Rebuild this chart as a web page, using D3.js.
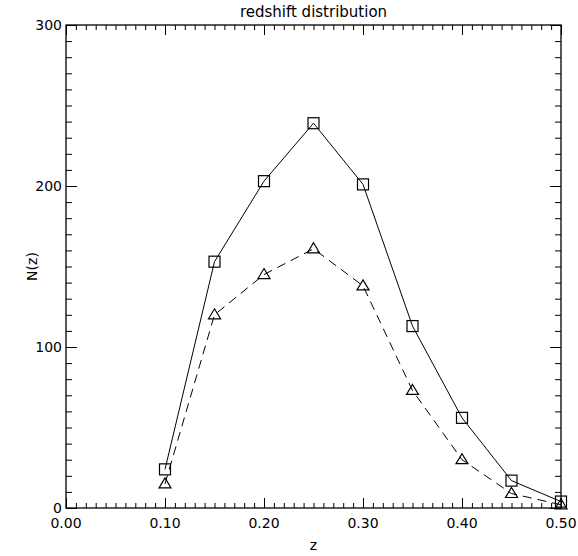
<!DOCTYPE html>
<html>
<head>
<meta charset="utf-8">
<script src="https://cdn.jsdelivr.net/npm/d3@7"></script>
<style>
  body { margin: 0; background: #fff; }
  text { font-family: "DejaVu Sans", sans-serif; font-size: 14px; fill: #000; }
  .title { font-size: 15px; }
</style>
</head>
<body>
<div id="chart-area"></div>
<script>
// redshift distribution, two samples
const zValues = [0.10, 0.15, 0.20, 0.25, 0.30, 0.35, 0.40, 0.45, 0.50];
const squareCounts = [24, 153, 203, 239, 201, 113, 56, 17, 4];
const triangleCounts = [15, 120, 145, 161, 138, 73, 30, 9, 2];
const xTicks = [0.0, 0.1, 0.2, 0.3, 0.4, 0.5];
const yTicks = [0, 100, 200, 300];

const widthSvg = 578;
const heightSvg = 556;
const margin = { top: 25, right: 17, bottom: 48, left: 66 };
const widthChart = widthSvg - margin.left - margin.right;
const heightChart = heightSvg - margin.top - margin.bottom;

const scaleX = d3.scaleLinear().domain([0, 0.5]).range([0, widthChart]);
const scaleY = d3.scaleLinear().domain([0, 300]).range([heightChart, 0]);

const svg = d3.select('#chart-area')
  .append('svg')
    .attr('width', widthSvg)
    .attr('height', heightSvg);

const chart = svg.append('g')
  .attr('transform', `translate(${margin.left}, ${margin.top})`);

// frame
chart.append('rect')
  .attr('width', widthChart)
  .attr('height', heightChart)
  .attr('fill', 'none')
  .attr('stroke', '#000')
  .attr('stroke-width', 1.3);

// ticks on all four sides, pointing in
const tickStyle = g => {
  g.select('.domain').remove();
  g.selectAll('line').attr('stroke', '#000');
};

const xMinor = d3.range(0, 51).map(i => i / 100);
const yMinor = d3.range(0, 31).map(i => i * 10);

chart.append('g')
  .attr('transform', `translate(0, ${heightChart})`)
  .call(d3.axisTop(scaleX).tickValues(xMinor).tickSize(5).tickFormat(''))
  .call(tickStyle);
chart.append('g')
  .attr('transform', `translate(0, ${heightChart})`)
  .call(d3.axisTop(scaleX).tickValues(xTicks).tickSize(10).tickFormat(''))
  .call(tickStyle);
chart.append('g')
  .call(d3.axisBottom(scaleX).tickValues(xMinor).tickSize(5).tickFormat(''))
  .call(tickStyle);
chart.append('g')
  .call(d3.axisBottom(scaleX).tickValues(xTicks).tickSize(10).tickFormat(''))
  .call(tickStyle);

chart.append('g')
  .call(d3.axisRight(scaleY).tickValues(yMinor).tickSize(6).tickFormat(''))
  .call(tickStyle);
chart.append('g')
  .call(d3.axisRight(scaleY).tickValues(yTicks).tickSize(11).tickFormat(''))
  .call(tickStyle);
chart.append('g')
  .attr('transform', `translate(${widthChart}, 0)`)
  .call(d3.axisLeft(scaleY).tickValues(yMinor).tickSize(6).tickFormat(''))
  .call(tickStyle);
chart.append('g')
  .attr('transform', `translate(${widthChart}, 0)`)
  .call(d3.axisLeft(scaleY).tickValues(yTicks).tickSize(11).tickFormat(''))
  .call(tickStyle);

// tick labels
chart.selectAll('.xlabel')
  .data(xTicks)
  .enter()
  .append('text')
    .attr('x', d => scaleX(d))
    .attr('y', heightChart + 20)
    .attr('text-anchor', 'middle')
    .text(d3.format('.2f'));

chart.selectAll('.ylabel')
  .data(yTicks)
  .enter()
  .append('text')
    .attr('x', -4)
    .attr('y', d => scaleY(d) + 5)
    .attr('text-anchor', 'end')
    .text(d => d);

svg.append('text')
  .attr('class', 'title')
  .attr('x', margin.left + widthChart / 2)
  .attr('y', 17)
  .attr('text-anchor', 'middle')
  .text('redshift distribution');

svg.append('text')
  .attr('x', margin.left + widthChart / 2)
  .attr('y', 550)
  .attr('text-anchor', 'middle')
  .text('z');

svg.append('text')
  .attr('transform', `translate(37, ${margin.top + heightChart / 2}) rotate(-90)`)
  .attr('text-anchor', 'middle')
  .text('N(z)');

// lines
const line = d3.line()
  .x(d => scaleX(d[0]))
  .y(d => scaleY(d[1]));

const squareData = d3.zip(zValues, squareCounts);
const triangleData = d3.zip(zValues, triangleCounts);

chart.append('path')
  .datum(squareData)
  .attr('d', line)
  .attr('fill', 'none')
  .attr('stroke', '#000')
  .attr('stroke-width', 1);

chart.append('path')
  .datum(triangleData)
  .attr('d', line)
  .attr('fill', 'none')
  .attr('stroke', '#000')
  .attr('stroke-width', 1)
  .attr('stroke-dasharray', '9,6');

// markers (open, lines show through)
chart.selectAll('.sq')
  .data(squareData)
  .enter()
  .append('rect')
    .attr('x', d => scaleX(d[0]) - 5.5)
    .attr('y', d => scaleY(d[1]) - 5.5)
    .attr('width', 11)
    .attr('height', 11)
    .attr('fill', 'none')
    .attr('stroke', '#000')
    .attr('stroke-width', 1.2);

chart.selectAll('.tri')
  .data(triangleData)
  .enter()
  .append('path')
    .attr('transform', d => `translate(${scaleX(d[0])}, ${scaleY(d[1])})`)
    .attr('d', 'M0,-6L6,4L-6,4Z')
    .attr('fill', 'none')
    .attr('stroke', '#000')
    .attr('stroke-width', 1.2);
</script>
</body>
</html>
